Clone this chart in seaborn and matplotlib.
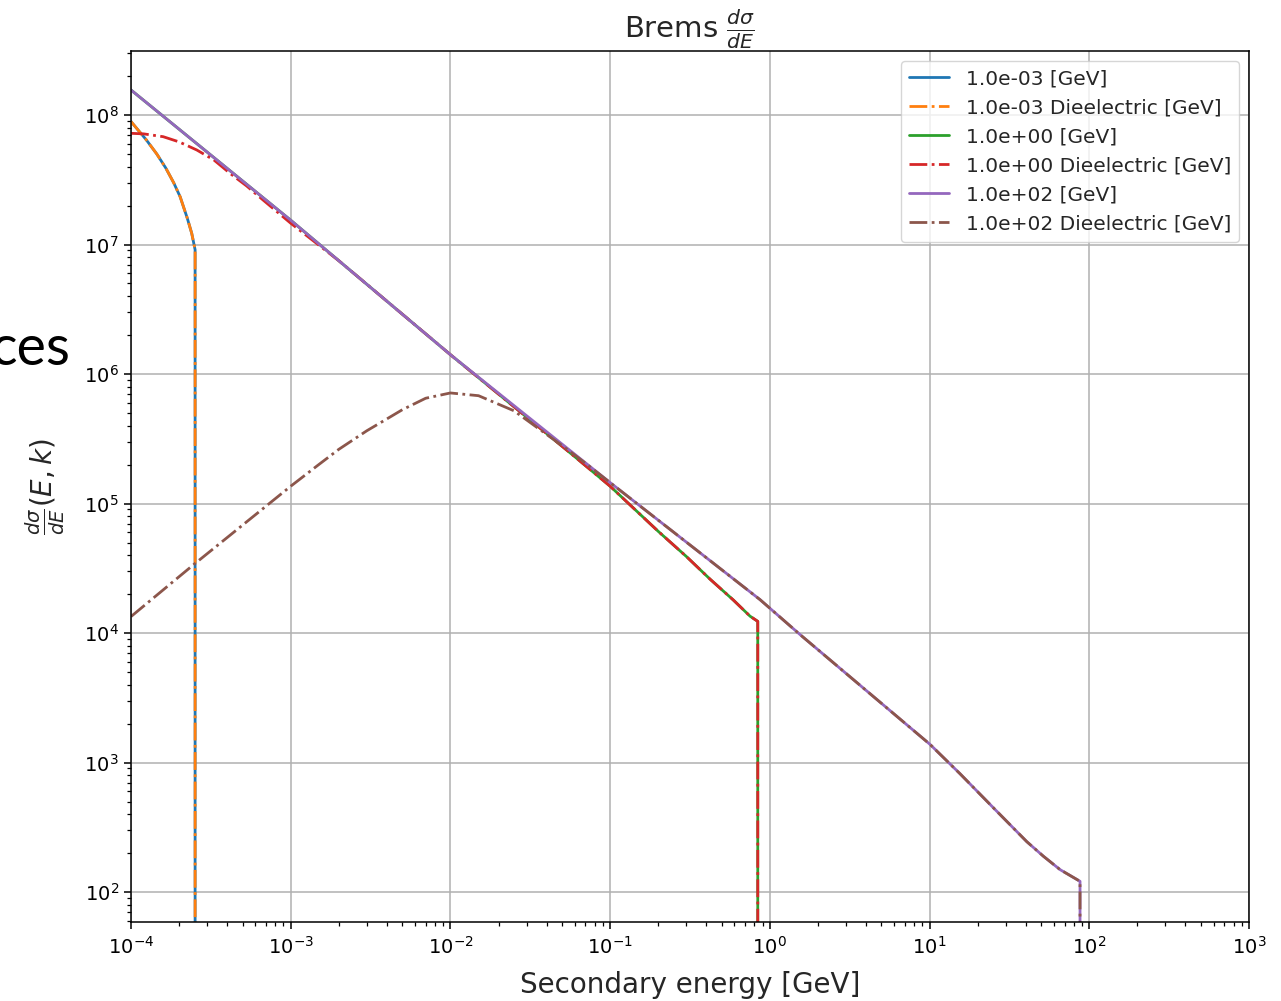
import matplotlib
matplotlib.use("Agg")
import matplotlib.pyplot as plt
import seaborn as sns

# ---------------- data ----------------
labels = ["1.0e-03 [GeV]", "1.0e-03 Dieelectric [GeV]",
          "1.0e+00 [GeV]", "1.0e+00 Dieelectric [GeV]",
          "1.0e+02 [GeV]", "1.0e+02 Dieelectric [GeV]"]

# E = 1e-3 GeV (both curves coincide)
k_e3 = [1.0e-4, 1.25e-4, 1.45e-4, 1.65e-4, 1.85e-4, 2.03e-4, 2.25e-4, 2.40e-4, 2.52e-4, 2.52e-4]
s_e3 = [8.9e7, 6.4e7, 5.0e7, 3.9e7, 3.0e7, 2.34e7, 1.6e7, 1.22e7, 9.1e6, 1e-3]
k_e3_diel = [1.0e-4, 1.25e-4, 1.45e-4, 1.65e-4, 1.85e-4, 2.03e-4, 2.25e-4, 2.40e-4, 2.52e-4,
             2.52e-4]
s_e3_diel = [8.9e7, 6.4e7, 5.0e7, 3.9e7, 3.0e7, 2.34e7, 1.6e7, 1.22e7, 9.1e6, 1e-3]

# E = 1 GeV
k_e0 = [1e-4, 1e-3, 1e-2, 3e-2, 6e-2, 0.1, 0.2, 0.3, 0.423, 0.59, 0.751, 0.84, 0.84]
s_e0 = [1.56e8, 1.54e7, 1.41e6, 4.65e5, 2.3e5, 1.36e5, 6.1e4, 3.9e4, 2.6e4,
        1.8e4, 1.35e4, 1.23e4, 1e-3]
k_e0_diel = [1e-4, 1.2e-4, 1.59e-4, 2e-4, 2.58e-4, 3.3e-4, 4.16e-4, 5.3e-4, 6.7e-4, 1e-3,
             2e-3, 1e-2, 3e-2, 6e-2, 0.1, 0.2, 0.3, 0.423, 0.59, 0.751, 0.84, 0.84]
s_e0_diel = [7.22e7, 7.15e7, 6.8e7, 6.2e7, 5.37e7, 4.5e7, 3.55e7, 2.83e7, 2.21e7, 1.46e7,
             7.5e6, 1.41e6, 4.65e5, 2.3e5, 1.36e5, 6.1e4, 3.9e4, 2.6e4, 1.8e4, 1.35e4,
             1.23e4, 1e-3]

# E = 100 GeV
k_e2 = [1e-4, 1e-3, 1e-2, 0.1, 0.868, 1.545, 10.07, 15.5, 25.1, 40.6, 51.6, 65.6, 87.5, 87.5]
s_e2 = [1.56e8, 1.54e7, 1.41e6, 1.45e5, 1.81e4, 9.73e3, 1.38e3, 820, 447, 245, 189, 149,
        121, 1e-3]
k_e2_diel = [1e-4, 2.45e-4, 1e-3, 1.5e-3, 2e-3, 3e-3, 4e-3, 5e-3, 7e-3, 1e-2, 1.5e-2, 2.5e-2,
             3.5e-2, 5e-2, 7e-2, 0.1, 0.868, 1.545, 10.07, 15.5, 25.1, 40.6, 51.6, 65.6,
             87.5, 87.5]
s_e2_diel = [1.34e4, 3.35e4, 1.36e5, 2.0e5, 2.62e5, 3.65e5, 4.5e5, 5.3e5, 6.5e5, 7.14e5,
             6.8e5, 5.2e5, 3.85e5, 2.8e5, 2.05e5, 1.45e5, 1.81e4, 9.73e3, 1.38e3, 820,
             447, 245, 189, 149, 121, 1e-3]

series = [(k_e3, s_e3), (k_e3_diel, s_e3_diel), (k_e0, s_e0), (k_e0_diel, s_e0_diel),
          (k_e2, s_e2), (k_e2_diel, s_e2_diel)]
styles = ["-", "-.", "-", "-.", "-", "-."]
colors = sns.color_palette("tab10", 6)

# ---------------- figure ----------------
sns.set_theme(style="ticks", rc={
    "axes.edgecolor": "black", "axes.linewidth": 1.1,
    "xtick.major.size": 4.7, "ytick.major.size": 4.7,
    "xtick.minor.size": 2.7, "ytick.minor.size": 2.7,
    "xtick.major.width": 1.1, "ytick.major.width": 1.1,
    "xtick.minor.width": 0.9, "ytick.minor.width": 0.9,
    "xtick.major.pad": 5, "ytick.major.pad": 4,
    "xtick.color": "black", "ytick.color": "black",
    "xtick.labelsize": 14, "ytick.labelsize": 14,
    "grid.color": "#b0b0b0", "grid.linewidth": 1.1,
})
plt.rcParams["font.family"] = ["DejaVu Sans"]
plt.rcParams["mathtext.fontset"] = "dejavusans"

fig = plt.figure(figsize=(12.81, 10.01), dpi=100)
ax = fig.add_axes([131 / 1281, 1 - 922 / 1001, (1249 - 131) / 1281, (922 - 51) / 1001])
ax.set_xscale("log")
ax.set_yscale("log")

for (kx, sy), lab, ls, col in zip(series, labels, styles, colors):
    sns.lineplot(x=kx, y=sy, ax=ax, label=lab, color=col, linestyle=ls,
                 linewidth=2.0, estimator=None, sort=False)

ax.set_xlim(1e-4, 1e3)
ax.set_ylim(58.7, 3.12e8)
ax.grid(True, which="major")
ax.set_axisbelow(True)

ax.set_title(r"Brems $\frac{d\sigma}{dE}$", fontsize=21, pad=6)
ax.set_xlabel("Secondary energy [GeV]", fontsize=20, labelpad=10)
ax.set_ylabel(r"$\frac{d\sigma}{dE}(E, k)$", fontsize=20, labelpad=12)

leg = ax.legend(loc="upper right", fontsize=14.5, frameon=True, fancybox=True,
                framealpha=0.8, edgecolor="#cccccc", handlelength=2.0)

fig.text(0.055, 1 - 365 / 1001, "ces", fontsize=40, ha="right", va="baseline",
         family=["Lato", "DejaVu Sans"], color="black")

fig.savefig("out.png", dpi=100)
